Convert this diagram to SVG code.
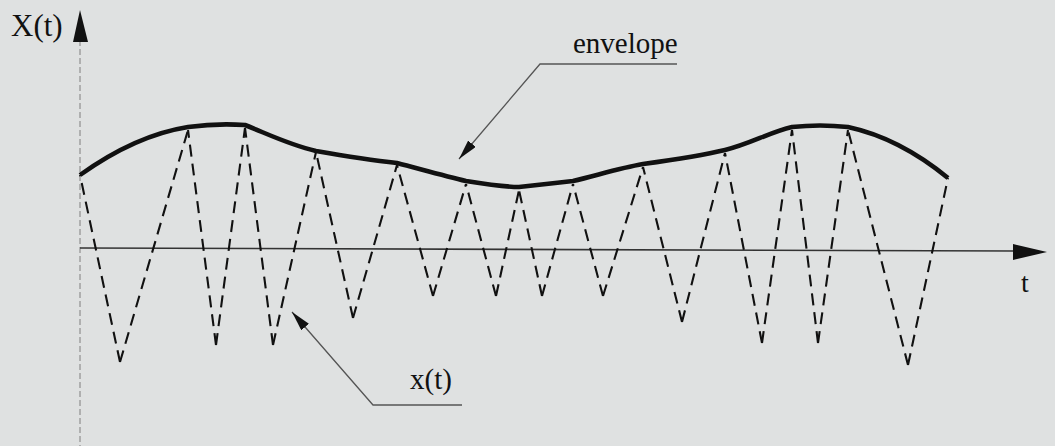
<svg xmlns="http://www.w3.org/2000/svg" width="1055" height="446" viewBox="0 0 1055 446">
<style>
.lbl{font-family:"Liberation Serif","Times New Roman",serif;fill:#111}
.dash{fill:none;stroke:#111;stroke-width:2.1;stroke-dasharray:12 7}
.lead{fill:none;stroke:#555;stroke-width:1.3}
</style>
<defs>
<marker id="ah" viewBox="0 0 20 10" refX="20" refY="5" markerWidth="20" markerHeight="10" markerUnits="userSpaceOnUse" orient="auto">
<path d="M0,0 L20,5 L0,10 Z" fill="#111"/>
</marker>
</defs>
<rect width="1055" height="446" fill="#dfe1e1"/>
<g id="axes">
<line x1="80" y1="40" x2="80" y2="446" stroke="#888" stroke-width="1.1" stroke-dasharray="6 3"/>
<path d="M80,10 L88,42 L73,42 Z" fill="#111"/>
<line x1="80" y1="248" x2="1015" y2="251" stroke="#333" stroke-width="1.6"/>
<path d="M1047,252 L1013,244 L1013,260 Z" fill="#111"/>
</g>
<g id="axis-labels">
<text class="lbl" x="11" y="36" font-size="31">X(t)</text>
<text class="lbl" x="1025" y="292" font-size="28" text-anchor="middle">t</text>
</g>
<g id="signal">
<path class="dash" d="M120,362 L80,175"/>
<path class="dash" d="M120,362 L188,130"/>
<path class="dash" d="M216,345 L188,130"/>
<path class="dash" d="M216,345 L245,128"/>
<path class="dash" d="M273,345 L245,128"/>
<path class="dash" d="M273,345 L316,152"/>
<path class="dash" d="M353,318 L316,152"/>
<path class="dash" d="M353,318 L397,165"/>
<path class="dash" d="M433,296 L397,165"/>
<path class="dash" d="M433,296 L466,184"/>
<path class="dash" d="M496,296 L466,184"/>
<path class="dash" d="M496,296 L519,190"/>
<path class="dash" d="M542,296 L519,190"/>
<path class="dash" d="M542,296 L573,184"/>
<path class="dash" d="M603,296 L573,184"/>
<path class="dash" d="M603,296 L643,167"/>
<path class="dash" d="M682,322 L643,167"/>
<path class="dash" d="M682,322 L725,153"/>
<path class="dash" d="M762,343 L725,153"/>
<path class="dash" d="M762,343 L792,130"/>
<path class="dash" d="M818,343 L792,130"/>
<path class="dash" d="M818,343 L848,130"/>
<path class="dash" d="M908,365 L848,130"/>
<path class="dash" d="M908,365 L948,178"/>
</g>
<g id="envelope">
<path d="M80,175 C115,150 150,133 188,127 C210,124 230,124 245,125 C270,135 290,145 316,151 C345,156 370,160 397,163 C420,169 445,176 466,181 C485,184 505,187 519,187 C538,185 555,183 573,181 C598,175 620,168 643,164 C672,160 700,156 725,150 C750,144 770,132 792,127 C810,125 830,125 848,127 C885,135 920,155 948,178" fill="none" stroke="#111" stroke-width="4.6" stroke-linejoin="round"/>
</g>
<g id="text-labels">
<text class="lbl" x="573" y="53" font-size="29">envelope</text>
<text class="lbl" x="410" y="389" font-size="29">x(t)</text>
</g>
<g id="connectors">
<path class="lead" d="M677,64 L540,64 L459,159" marker-end="url(#ah)"/>
<path class="lead" d="M462,405 L373,405 L292,312" marker-end="url(#ah)"/>
</g>
</svg>
